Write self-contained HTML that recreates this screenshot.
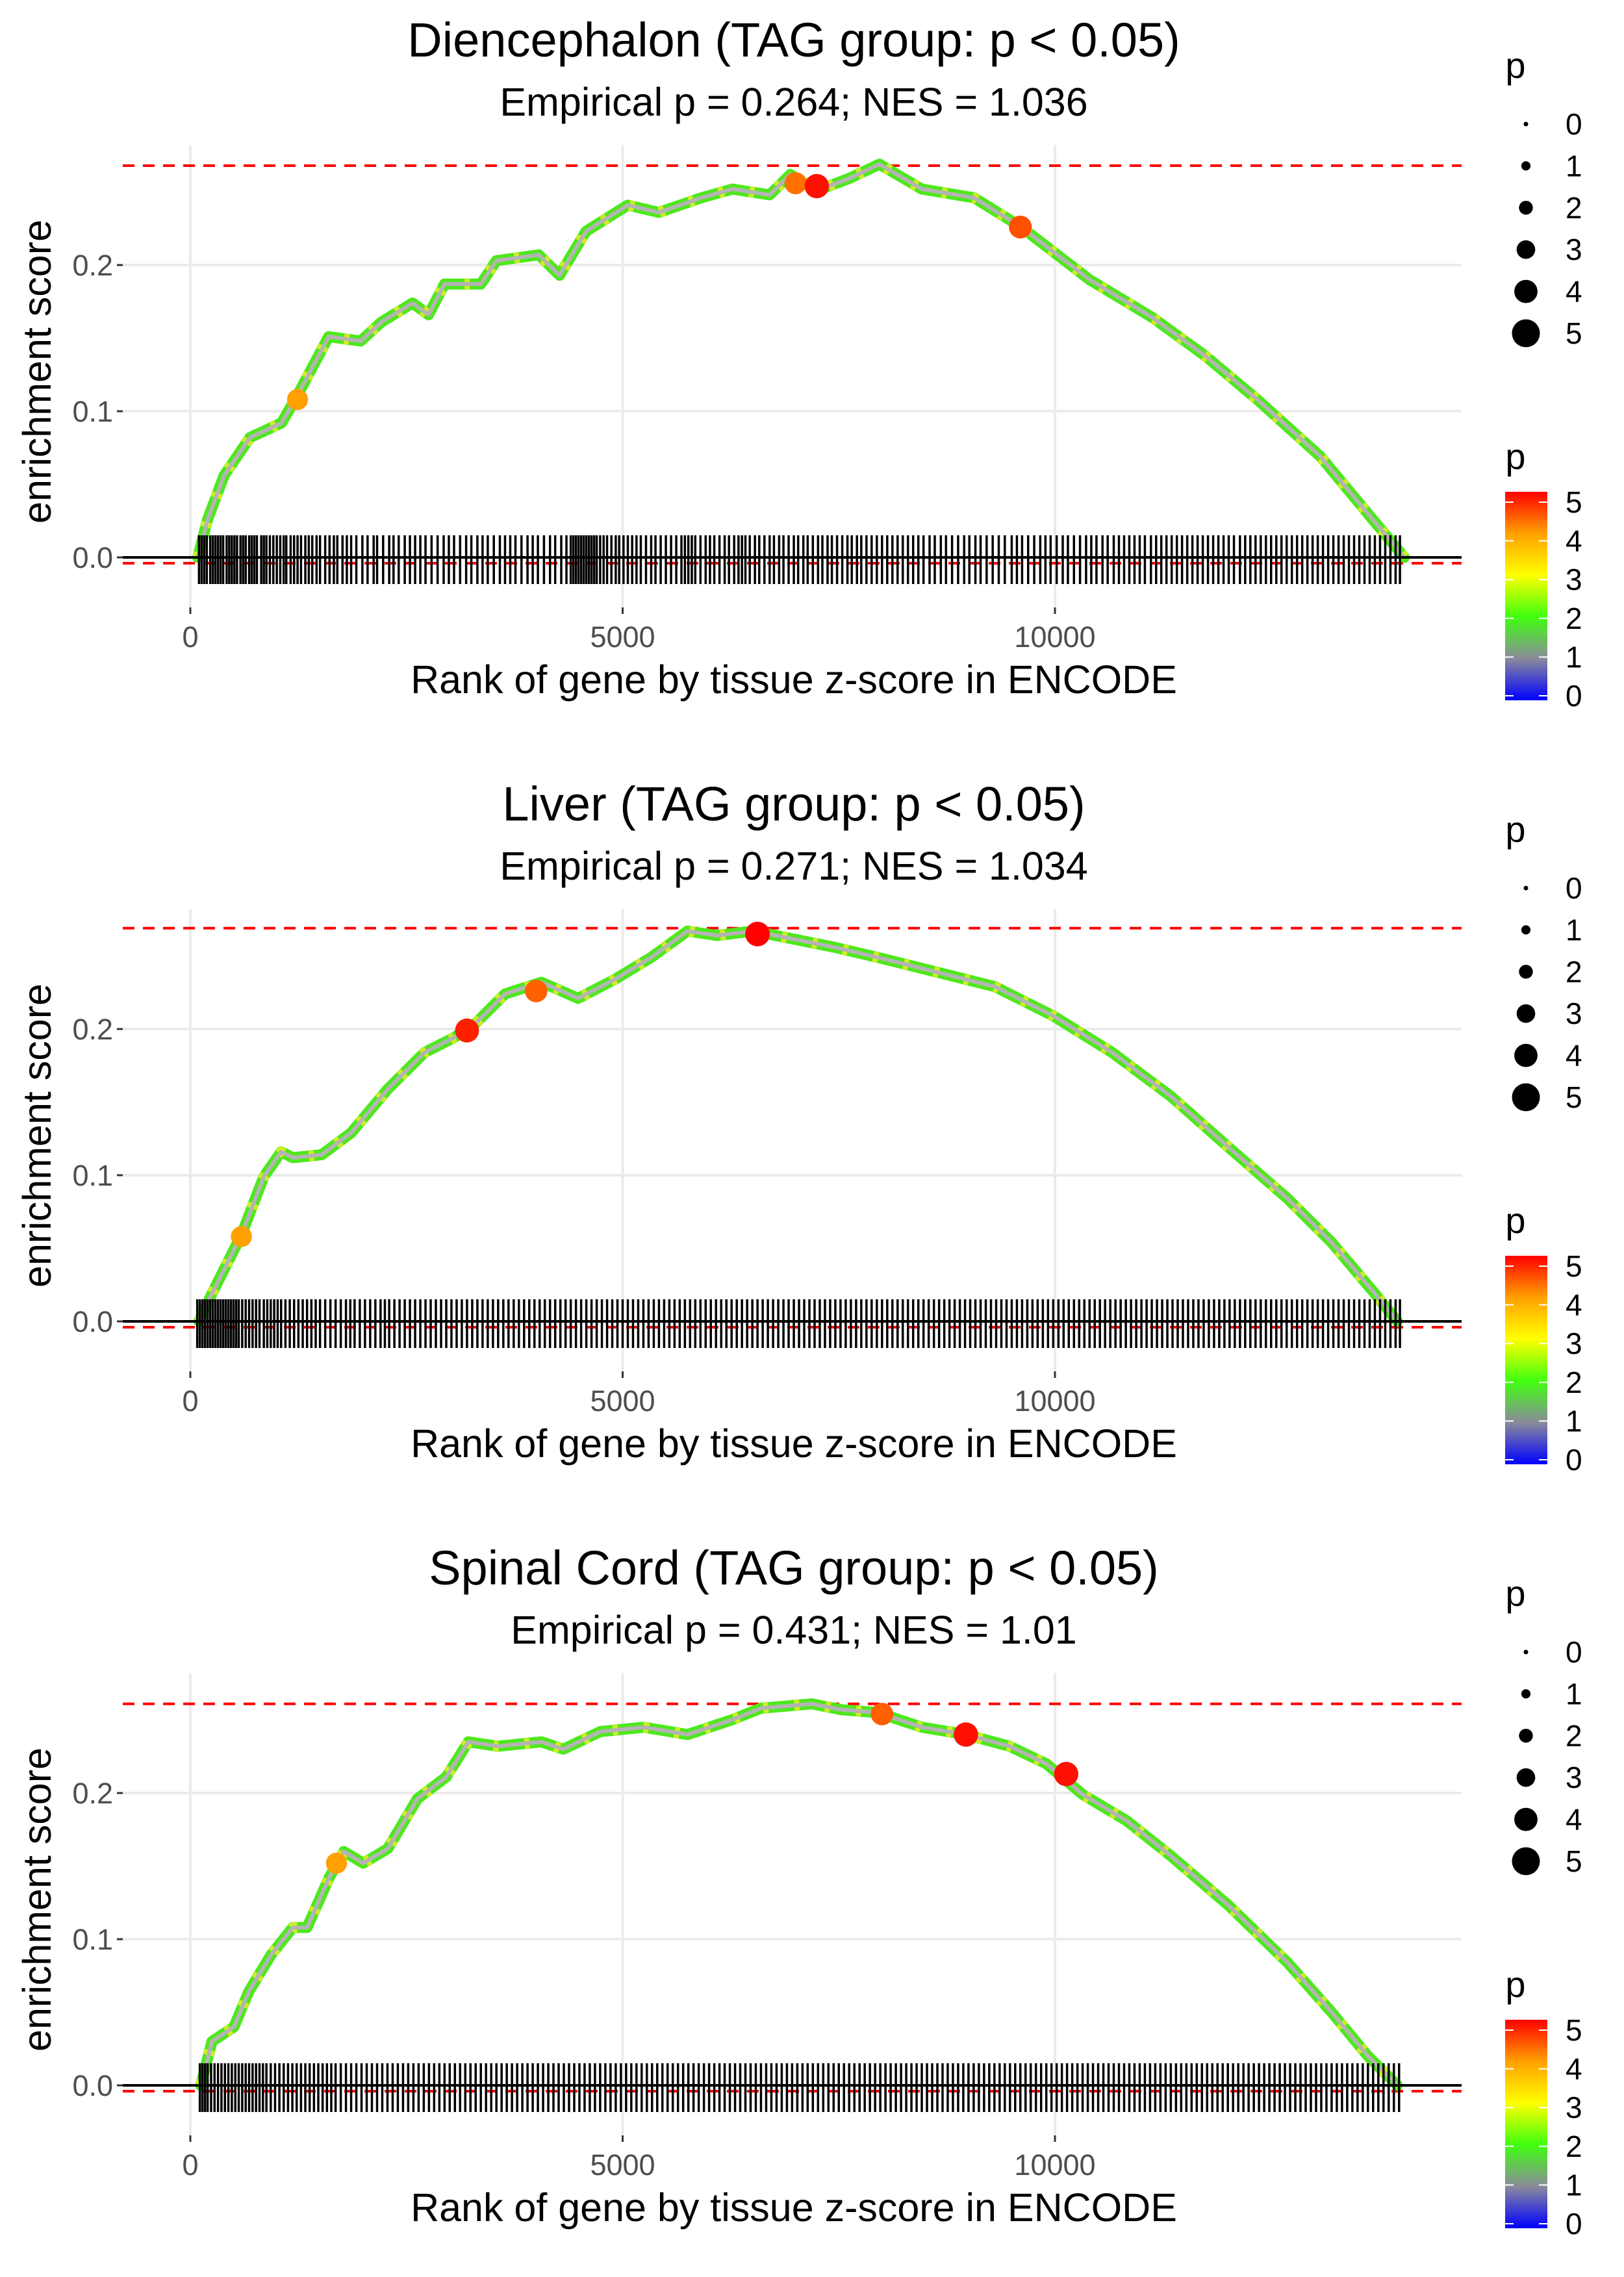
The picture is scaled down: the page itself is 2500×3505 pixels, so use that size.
<!DOCTYPE html>
<html><head><meta charset="utf-8">
<style>
html,body{margin:0;padding:0;background:#fff;}
svg text{font-family:"Liberation Sans",Arial,sans-serif;}
</style></head>
<body>
<svg id="chart" width="2500" height="3500" viewBox="0 0 2500 3500" xmlns="http://www.w3.org/2000/svg">
<defs>
<linearGradient id="pgrad" x1="0" y1="1" x2="0" y2="0">
<stop offset="0" stop-color="#0000ff"/>
<stop offset="0.2" stop-color="#8a8a9a"/>
<stop offset="0.4" stop-color="#40ff10"/>
<stop offset="0.6" stop-color="#ffff00"/>
<stop offset="0.8" stop-color="#ffa000"/>
<stop offset="1" stop-color="#ff0000"/>
</linearGradient>
</defs>
</svg>
<script>
// ---- data ----
const panelTitles = ["Diencephalon (TAG group: p < 0.05)","Liver (TAG group: p < 0.05)","Spinal Cord (TAG group: p < 0.05)"];
const panelSubtitles = ["Empirical p = 0.264; NES = 1.036","Empirical p = 0.271; NES = 1.034","Empirical p = 0.431; NES = 1.01"];
const maxES = [0.268, 0.269, 0.261];
const minES = [-0.004, -0.004, -0.004];
const rank1 = [85,200,390,690,1055,1240,1420,1600,1970,2210,2570,2755,2940,3360,3540,4030,4270,4575,5060,5420,5910,6270,6700,6940,7245,7610,7970,8460,9065,9610,10400,11130,11735,12340,13070,13675,14040];
const es1 = [0,0.026,0.056,0.082,0.092,0.111,0.131,0.151,0.148,0.161,0.174,0.166,0.187,0.187,0.203,0.207,0.193,0.223,0.241,0.236,0.246,0.252,0.248,0.262,0.251,0.259,0.269,0.252,0.246,0.226,0.190,0.164,0.138,0.108,0.069,0.026,0];
const rank2 = [100,250,590,850,1050,1185,1520,1860,2285,2710,3045,3300,3640,4060,4485,4910,5330,5750,6090,6510,6940,7445,7950,8630,9305,9980,10660,11340,12010,12690,13200,13700,13960];
const es2 = [0,0.019,0.059,0.099,0.116,0.112,0.114,0.129,0.159,0.184,0.194,0.204,0.224,0.232,0.221,0.234,0.249,0.267,0.264,0.267,0.262,0.256,0.249,0.239,0.229,0.209,0.184,0.154,0.119,0.084,0.054,0.019,0];
const rank3 = [120,250,505,675,930,1185,1350,1605,1775,2000,2285,2625,2960,3215,3555,4060,4315,4740,5245,5750,6260,6600,7190,7530,7950,8460,8970,9475,9900,10320,10830,11340,12010,12690,13200,13620,13960];
const es3 = [0,0.030,0.040,0.064,0.089,0.108,0.108,0.142,0.160,0.152,0.162,0.196,0.211,0.235,0.232,0.235,0.230,0.242,0.245,0.240,0.250,0.258,0.261,0.257,0.255,0.245,0.240,0.232,0.220,0.199,0.181,0.157,0.123,0.084,0.050,0.020,0];
const hiRank1 = [1240,7000,7245,9600]; const hiES1 = [0.108,0.256,0.254,0.226]; const hiP1 = [4.0,4.3,4.9,4.5];
const hiRank2 = [590,3200,4000,6560]; const hiES2 = [0.058,0.199,0.226,0.265]; const hiP2 = [4.0,4.8,4.4,5.0];
const hiRank3 = [1690,8000,8970,10130]; const hiES3 = [0.152,0.254,0.240,0.213]; const hiP3 = [4.0,4.4,4.9,4.9];
const rug1 = [100,130,160,190,230,260,290,320,350,380,420,450,480,510,540,580,610,640,680,710,740,770,820,850,880,920,960,1000,1040,1080,1110,1160,1200,1240,1280,1330,1370,1410,1460,1500,1560,1610,1660,1700,1760,1810,1860,1920,1990,2050,2120,2160,2230,2300,2350,2410,2480,2540,2600,2660,2720,2790,2860,2930,2990,3050,3120,3190,3250,3320,3380,3440,3510,3580,3640,3700,3760,3830,3900,3960,4020,4090,4160,4220,4290,4350,4400,4430,4460,4490,4520,4550,4580,4610,4640,4670,4700,4740,4780,4820,4870,4920,4960,5010,5060,5110,5160,5210,5270,5330,5380,5440,5500,5560,5620,5680,5720,5760,5800,5840,5900,5960,6010,6060,6120,6180,6230,6290,6340,6380,6420,6470,6530,6580,6640,6700,6750,6810,6860,6920,6980,7030,7090,7140,7200,7260,7310,7370,7420,7480,7540,7600,7650,7710,7760,7820,7880,7940,8000,8060,8120,8180,8240,8300,8360,8420,8480,8550,8610,8680,8740,8810,8880,8950,9010,9080,9140,9210,9280,9350,9420,9500,9560,9620,9690,9760,9830,9890,9950,10020,10090,10150,10220,10290,10360,10420,10480,10550,10610,10680,10740,10800,10860,10920,10980,11040,11110,11170,11230,11290,11350,11410,11470,11530,11590,11650,11710,11770,11830,11890,11950,12010,12070,12140,12200,12260,12320,12380,12440,12500,12560,12620,12680,12740,12800,12860,12920,12980,13040,13100,13160,13220,13280,13340,13400,13460,13520,13580,13640,13700,13760,13820,13880,13940,13990];
const rug2 = [80,110,140,170,200,230,260,290,320,350,380,410,440,470,500,530,560,600,640,680,720,760,800,850,890,930,970,1010,1050,1100,1150,1200,1250,1300,1350,1400,1450,1500,1560,1620,1680,1740,1800,1850,1900,1960,2020,2080,2140,2200,2250,2300,2360,2420,2480,2540,2600,2660,2720,2780,2840,2900,2960,3020,3080,3140,3200,3260,3320,3380,3440,3500,3560,3620,3680,3740,3800,3860,3920,3980,4040,4100,4160,4220,4280,4340,4400,4460,4520,4580,4640,4700,4760,4820,4880,4940,5000,5060,5120,5180,5240,5300,5360,5420,5480,5540,5600,5660,5720,5780,5840,5900,5960,6020,6080,6140,6200,6260,6320,6380,6440,6500,6560,6620,6680,6740,6800,6860,6920,6980,7040,7100,7160,7220,7280,7340,7400,7460,7520,7580,7640,7700,7760,7820,7880,7940,8000,8060,8120,8180,8240,8300,8360,8420,8480,8540,8600,8660,8720,8780,8840,8900,8960,9020,9080,9140,9200,9260,9320,9380,9440,9500,9560,9620,9680,9740,9800,9860,9920,9980,10040,10100,10160,10220,10280,10340,10400,10460,10520,10580,10640,10700,10760,10820,10880,10940,11000,11060,11120,11180,11240,11300,11360,11420,11480,11540,11600,11660,11720,11780,11840,11900,11960,12020,12080,12140,12200,12260,12320,12380,12440,12500,12560,12620,12680,12740,12800,12860,12920,12980,13040,13100,13160,13220,13280,13340,13400,13460,13520,13580,13640,13700,13760,13820,13880,13940,13990];
const rug3 = [110,140,170,200,240,280,320,360,400,440,480,520,560,600,640,680,720,760,800,840,880,930,980,1030,1080,1130,1180,1230,1280,1330,1380,1430,1480,1530,1580,1630,1680,1740,1800,1860,1920,1980,2040,2100,2160,2220,2280,2340,2400,2460,2520,2580,2640,2700,2760,2820,2880,2940,3000,3060,3120,3180,3240,3300,3360,3420,3480,3540,3600,3660,3720,3780,3840,3900,3960,4020,4080,4140,4200,4260,4320,4380,4440,4500,4560,4620,4680,4740,4800,4860,4920,4980,5040,5100,5160,5220,5280,5340,5400,5460,5520,5580,5640,5700,5760,5820,5880,5940,6000,6060,6120,6180,6240,6300,6360,6420,6480,6540,6600,6660,6720,6780,6840,6900,6960,7020,7080,7140,7200,7260,7320,7380,7440,7500,7560,7620,7680,7740,7800,7860,7920,7980,8040,8100,8160,8220,8280,8340,8400,8460,8520,8580,8640,8700,8760,8820,8880,8940,9000,9060,9120,9180,9240,9300,9360,9420,9480,9540,9600,9660,9720,9780,9840,9900,9960,10020,10080,10140,10200,10260,10320,10380,10440,10500,10560,10620,10680,10740,10800,10860,10920,10980,11040,11100,11160,11220,11280,11340,11400,11460,11520,11580,11640,11700,11760,11820,11880,11940,12000,12060,12120,12180,12240,12300,12360,12420,12480,12540,12600,12660,12720,12780,12840,12900,12960,13020,13080,13140,13200,13260,13320,13380,13440,13500,13560,13620,13680,13740,13800,13860,13920,13980];
const xTicks = [0,5000,10000];
const xTickLabels = ["0","5000","10000"];
const yTicks = [0,0.1,0.2];
const yTickLabels = ["0.0","0.1","0.2"];
const legendVals = [0,1,2,3,4,5];
const ranks = [rank1,rank2,rank3], ess=[es1,es2,es3];
const hiRanks=[hiRank1,hiRank2,hiRank3], hiESs=[hiES1,hiES2,hiES3], hiPs=[hiP1,hiP2,hiP3];
const rugs=[rug1,rug2,rug3];

// ---- drawing ----
const NS="http://www.w3.org/2000/svg";
const svg=document.getElementById('chart');
function mk(tag,attrs,parent){const e=document.createElementNS(NS,tag);for(const k in attrs)e.setAttribute(k,attrs[k]);(parent||svg).appendChild(e);return e;}
const offsets=[0,1176,2352];
const plotL=189, plotR=2250;
function xs(r){return 293+r*(1624-293)/10000;}
function pcolor(p){
  const stops=[[0,[0,0,255]],[1,[138,138,154]],[2,[64,255,16]],[3,[255,255,0]],[4,[255,160,0]],[5,[255,0,0]]];
  for(let i=0;i<5;i++){if(p<=stops[i+1][0]){const t=(p-stops[i][0]);const a=stops[i][1],b=stops[i+1][1];return `rgb(${Math.round(a[0]+(b[0]-a[0])*t)},${Math.round(a[1]+(b[1]-a[1])*t)},${Math.round(a[2]+(b[2]-a[2])*t)})`;}}
  return 'rgb(255,0,0)';
}
for(let k=0;k<3;k++){
  const oy=offsets[k];
  const ys=v=>oy+858-v*2250;
  const g=mk('g',{});
  
  
  yTicks.forEach((t,i)=>{
    const l=mk('line',{x1:plotL,x2:plotR,y1:ys(t),y2:ys(t),stroke:'#ebebeb','stroke-width':4},g);
    
    
    const tk=mk('line',{x1:180,x2:189,y1:ys(t),y2:ys(t),stroke:'#333','stroke-width':3},g);
    
    
    const tx=mk('text',{x:174,y:ys(t)+16,'text-anchor':'end','font-size':45,fill:'#4d4d4d'},g);
    tx.textContent=yTickLabels[i];
    
    
  });
  xTicks.forEach((t,i)=>{
    const l=mk('line',{x1:xs(t),x2:xs(t),y1:oy+223,y2:oy+935,stroke:'#ebebeb','stroke-width':4},g);
    
    
    const tk=mk('line',{x1:xs(t),x2:xs(t),y1:oy+935,y2:oy+945,stroke:'#333','stroke-width':3},g);
    
    
    const tx=mk('text',{x:xs(t),y:oy+996,'text-anchor':'middle','font-size':45,fill:'#4d4d4d'},g);
    tx.textContent=xTickLabels[i];
    
    
  });
  [maxES[k],minES[k]].forEach((v,i)=>{
    const l=mk('line',{x1:plotL,x2:plotR,y1:ys(v),y2:ys(v),stroke:'#ff0000','stroke-width':4,'stroke-dasharray':'18 13'},g);
    
    
  });
  const pts=ranks[k].map((r,i)=>xs(r)+','+ys(ess[k][i])).join(' ');
  const c1=mk('polyline',{points:pts,fill:'none',stroke:'#4ee81c','stroke-width':17,'stroke-linejoin':'round','stroke-linecap':'round'},g);
  
  
  const c0=mk('polyline',{points:pts,fill:'none',stroke:'#e0f020','stroke-width':16,'stroke-linejoin':'round','stroke-dasharray':'8 40',opacity:0.9},g);
  
  
  const c2=mk('polyline',{points:pts,fill:'none',stroke:'#b4b4b4','stroke-width':6,'stroke-linejoin':'round'},g);
  
  
  hiRanks[k].forEach((r,i)=>{
    const p=hiPs[k][i];
    const d=mk('circle',{cx:xs(r),cy:ys(hiESs[k][i]),r:5+p*2.8,fill:pcolor(p)},g);
    
    
  });
  rugs[k].forEach(r=>{
    const l=mk('line',{x1:xs(r),x2:xs(r),y1:oy+824,y2:oy+899,stroke:'#000','stroke-width':3.5},g);
    
    
  });
  const z=mk('line',{x1:plotL,x2:plotR,y1:ys(0),y2:ys(0),stroke:'#000','stroke-width':4},g);
  
  
  const t=mk('text',{x:1222,y:oy+87,'text-anchor':'middle','font-size':74,fill:'#000'},g);
  t.textContent=panelTitles[k];
  
  
  const st=mk('text',{x:1222,y:oy+178,'text-anchor':'middle','font-size':61,fill:'#000'},g);
  st.textContent=panelSubtitles[k];
  
  
  const xt=mk('text',{x:1222,y:oy+1067,'text-anchor':'middle','font-size':61,fill:'#000'},g);
  xt.textContent='Rank of gene by tissue z-score in ENCODE';
  
  
  const yt=mk('text',{x:0,y:0,'text-anchor':'middle','font-size':61,fill:'#000',transform:`translate(78,${oy+572}) rotate(-90)`},g);
  yt.textContent='enrichment score';
  
  
  const lt=mk('text',{x:2333,y:oy+120,'text-anchor':'middle','font-size':56,fill:'#000'},g);
  lt.textContent='p';
  
  
  legendVals.forEach((v,i)=>{
    const cy=oy+191+i*64.4;
    const d=mk('circle',{cx:2349,cy:cy,r:3.5+v*3.6,fill:'#000'},g);
    
    
    const tx=mk('text',{x:2410,y:cy+16,'font-size':46,fill:'#000'},g);
    tx.textContent=String(v);
    
    
  });
  const ct=mk('text',{x:2333,y:oy+722,'text-anchor':'middle','font-size':56,fill:'#000'},g);
  ct.textContent='p';
  
  
  const bar=mk('rect',{x:2317,y:oy+757,width:65,height:321,fill:'url(#pgrad)'},g);
  
  
  legendVals.forEach(v=>{
    const yy=oy+1071-v*59.6;
    const a=mk('line',{x1:2317,x2:2330,y1:yy,y2:yy,stroke:'#fff','stroke-width':2},g);
    
    
    const b=mk('line',{x1:2369,x2:2382,y1:yy,y2:yy,stroke:'#fff','stroke-width':2},g);
    
    
    const tx=mk('text',{x:2410,y:yy+16,'font-size':46,fill:'#000'},g);
    tx.textContent=String(v);
    
    
  });
}
</script>
</body></html>
